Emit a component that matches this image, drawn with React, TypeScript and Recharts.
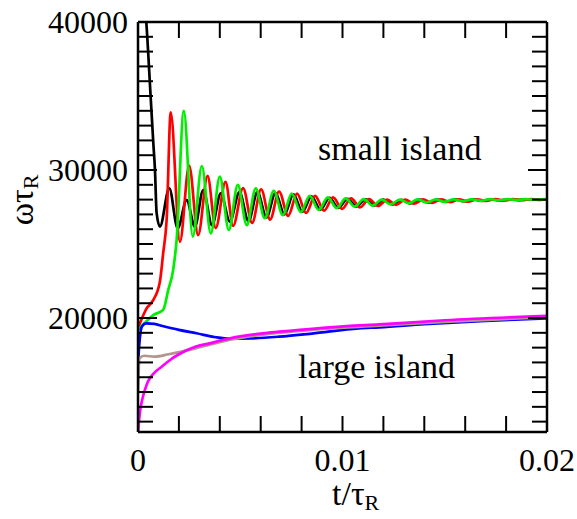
import React from 'react'
import {LineChart, Line, XAxis, YAxis} from 'recharts'

// tick positions
const xTicks = [0, 0.002, 0.004, 0.006, 0.008, 0.01, 0.012, 0.014, 0.016, 0.018, 0.02]
const xLabels = [0, 0.01, 0.02]
const yTicks = [13000, 14000, 15000, 16000, 17000, 18000, 19000, 20000, 21000, 22000, 23000, 24000, 25000, 26000,
  27000, 28000, 29000, 30000, 31000, 32000, 33000, 34000, 35000, 36000, 37000, 38000, 39000, 40000]
const yLabels = [20000, 30000, 40000]

// small island runs
const blackT = [0, 0.0002, 0.00042, 0.0006, 0.00075, 0.00083, 0.00091, 0.00107, 0.00153, 0.00194, 0.00238, 0.00278,
  0.00319, 0.00362, 0.00405, 0.00449, 0.00496, 0.0054, 0.00584, 0.00628, 0.00672, 0.00716, 0.0076, 0.00804, 0.00848,
  0.00892, 0.00936, 0.0098, 0.01024, 0.01068, 0.01112, 0.01156, 0.012, 0.01244, 0.01288, 0.01332, 0.01376, 0.0142,
  0.01464, 0.01508, 0.01552, 0.01596, 0.0164, 0.01684, 0.01728, 0.01772, 0.01816, 0.0186, 0.01904, 0.01948, 0.01992, 0.02]
const blackW = [47000, 43000, 39700, 35400, 31800, 30000, 27100, 26170, 28760, 26060, 27970, 26170,
  28650, 26280, 28420, 26510, 28500, 26550, 28500, 26800, 28450, 27000, 28350, 27180, 28220,
  27320, 28120, 27440, 28060, 27530, 28020, 27610, 28000, 27680, 27990, 27750, 28000, 27800,
  28000, 27850, 28010, 27890, 28010, 27920, 28020, 27950, 28020, 27970, 28020, 27990, 28020, 28010]

const redT = [0, 0.0001, 0.00042, 0.00075, 0.00107, 0.00123, 0.0014, 0.0016, 0.00205, 0.0025, 0.00294, 0.0034, 0.0038,
  0.00428, 0.00465, 0.00514, 0.00558, 0.00602, 0.00646, 0.0069, 0.00734, 0.00778, 0.00822, 0.00866, 0.0091, 0.00954,
  0.00998, 0.01042, 0.01086, 0.0113, 0.01174, 0.01218, 0.01262, 0.01306, 0.0135, 0.01394, 0.01438, 0.01482, 0.01526,
  0.0157, 0.01614, 0.01658, 0.01702, 0.01746, 0.0179, 0.01834, 0.01878, 0.01922, 0.01966, 0.02]
const redW = [19300, 19660, 20650, 21220, 22450, 24370, 26620, 33900, 25150, 30300, 25600, 29600, 26080,
  29200, 26220, 28780, 26420, 28700, 26650, 28550, 26900, 28400, 27100, 28250, 27250, 28150,
  27380, 28080, 27480, 28030, 27570, 28000, 27650, 28000, 27720, 28010, 27780, 28010, 27830,
  28020, 27870, 28020, 27910, 28030, 27940, 28030, 27960, 28030, 27980, 28010]

const greenT = [0, 0.00018, 0.00075, 0.00123, 0.00148, 0.00172, 0.00189, 0.00224, 0.00268, 0.00312, 0.00356, 0.004,
  0.00444, 0.00488, 0.00532, 0.00576, 0.0062, 0.00664, 0.00708, 0.00752, 0.00796, 0.0084, 0.00884, 0.00928, 0.00972,
  0.01016, 0.0106, 0.01104, 0.01148, 0.01192, 0.01236, 0.0128, 0.01324, 0.01368, 0.01412, 0.01456, 0.015, 0.01544,
  0.01588, 0.01632, 0.01676, 0.0172, 0.01764, 0.01808, 0.01852, 0.01896, 0.0194, 0.01984, 0.02]
const greenW = [19200, 19450, 20200, 20550, 21900, 23250, 25300, 34000, 25500, 30270, 25720, 29550,
  25950, 28990, 26280, 28760, 26740, 28600, 26950, 28400, 27150, 28250, 27300, 28150, 27430,
  28080, 27520, 28030, 27600, 28000, 27680, 28000, 27750, 28010, 27800, 28010, 27850, 28020,
  27890, 28020, 27920, 28030, 27950, 28030, 27970, 28030, 27990, 28030, 28020]

// large island runs
const blueT = [0, 0.00005, 0.00012, 0.0002, 0.0004, 0.0008, 0.0012, 0.002, 0.00286, 0.0038, 0.0045, 0.0055, 0.0069,
  0.0085, 0.0108, 0.0118, 0.014, 0.017, 0.02]
const blueW = [16900, 18000, 19000, 19450, 19640, 19600, 19460, 19200, 18970, 18700, 18600, 18620, 18740,
  18950, 19300, 19370, 19580, 19800, 19980]

const brownT = [0, 0.00008, 0.0003, 0.0008, 0.0015, 0.0028, 0.0035, 0.0045, 0.006, 0.0085, 0.0118, 0.015, 0.02]
const brownW = [15000, 17300, 17450, 17390, 17550, 17950, 18200, 18540, 18860, 19200, 19480, 19740, 20060]

const magentaT = [0, 0.00004, 0.0001, 0.0002, 0.00035, 0.0005, 0.0008, 0.00116, 0.0016, 0.002, 0.0028, 0.0035, 0.0045,
  0.0061, 0.0069, 0.0102, 0.0118, 0.015, 0.02]
const magentaW = [12000, 12900, 13700, 14450, 15200, 15750, 16300, 16710, 17200, 17550, 18060, 18290, 18630,
  18966, 19076, 19459, 19570, 19850, 20150]

const zip = (ts: number[], ws: number[]) => ts.map((t, i) => ({t, w: ws[i]}))

const font = '"Liberation Serif", "Times New Roman", serif'

const fmtX = (v: number) => (v === 0 ? '0' : String(v))

const BottomTick = (props: any) => {
  const {x, y, payload} = props
  const major = xLabels.includes(payload.value)
  return (
    <g>
      <line x1={x} x2={x} y1={y} y2={y - 16} stroke="#000" strokeWidth={2} />
      {major && (
        <text x={x} y={y + 39} textAnchor="middle" fontFamily={font} fontSize={32} fill="#000">
          {fmtX(payload.value)}
        </text>
      )}
    </g>
  )
}

const TopTick = (props: any) => {
  const {x, y} = props
  return <line x1={x} x2={x} y1={y} y2={y + 16} stroke="#000" strokeWidth={2} />
}

const LeftTick = (props: any) => {
  const {x, y, payload} = props
  const major = yLabels.includes(payload.value)
  return (
    <g>
      <line x1={x} x2={x + (major ? 19 : 15)} y1={y} y2={y} stroke="#000" strokeWidth={2} />
      {major && (
        <text x={x - 10} y={y + 11} textAnchor="end" fontFamily={font} fontSize={32} fill="#000">
          {payload.value}
        </text>
      )}
    </g>
  )
}

const RightTick = (props: any) => {
  const {x, y, payload} = props
  const major = yLabels.includes(payload.value)
  return <line x1={x} x2={x - (major ? 19 : 15)} y1={y} y2={y} stroke="#000" strokeWidth={2} />
}

const series = [
  {key: 'black', t: blackT, w: blackW, color: '#000000'},
  {key: 'red', t: redT, w: redW, color: '#ff0000'},
  {key: 'green', t: greenT, w: greenW, color: '#00ee00'},
  {key: 'blue', t: blueT, w: blueW, color: '#0000ff'},
  {key: 'brown', t: brownT, w: brownW, color: '#b39590'},
  {key: 'magenta', t: magentaT, w: magentaW, color: '#ff00ff'},
]

export default function App() {
  return (
    <div style={{position: 'absolute', left: 0, top: 0, width: 577, height: 519, background: '#fff'}}>
      <LineChart width={577} height={519} margin={{top: 0, right: 0, bottom: 0, left: 0}}>
        <XAxis xAxisId="b" dataKey="t" type="number" domain={[0, 0.02]} ticks={xTicks} interval={0}
          orientation="bottom" height={87} tickSize={0} tickMargin={0} tickLine={false}
          axisLine={{stroke: '#000', strokeWidth: 2.5}} tick={<BottomTick />} allowDataOverflow />
        <XAxis xAxisId="top" dataKey="t" type="number" domain={[0, 0.02]} ticks={xTicks} interval={0}
          orientation="top" height={22} tickSize={0} tickMargin={0} tickLine={false}
          axisLine={{stroke: '#000', strokeWidth: 2.5}} tick={<TopTick />} allowDataOverflow />
        <YAxis yAxisId="l" type="number" domain={[12300, 40000]} ticks={yTicks} interval={0}
          orientation="left" width={138} tickSize={0} tickMargin={0} tickLine={false}
          axisLine={{stroke: '#000', strokeWidth: 2.5}} tick={<LeftTick />} allowDataOverflow />
        <YAxis yAxisId="r" type="number" domain={[12300, 40000]} ticks={yTicks} interval={0}
          orientation="right" width={30} tickSize={0} tickMargin={0} tickLine={false}
          axisLine={{stroke: '#000', strokeWidth: 2.5}} tick={<RightTick />} allowDataOverflow />
        {series.map(s => (
          <Line key={s.key} xAxisId="b" yAxisId="l" data={zip(s.t, s.w)} dataKey="w" type="monotone"
            stroke={s.color} strokeWidth={2.7} dot={false} activeDot={false} isAnimationActive={false} />
        ))}
        <text x={318} y={160} fontFamily={font} fontSize={34} fill="#000">small island</text>
        <text x={298} y={378} fontFamily={font} fontSize={34} fill="#000">large island</text>
        <text x={332} y={505} fontFamily={font} fontSize={34} fill="#000">
          t/τ<tspan fontSize={22} dy={5}>R</tspan>
        </text>
        <text transform="translate(33,200) rotate(-90)" x={0} y={0} textAnchor="middle" fontFamily={font} fontSize={34} fill="#000">
          ωτ<tspan fontSize={22} dy={5}>R</tspan>
        </text>
      </LineChart>
    </div>
  )
}
